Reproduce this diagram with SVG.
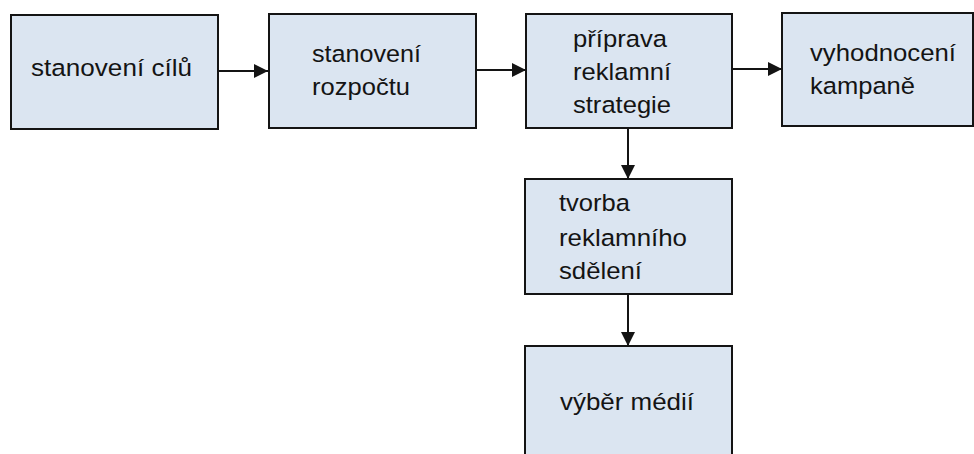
<svg xmlns="http://www.w3.org/2000/svg" width="974" height="454" viewBox="0 0 974 454">
<style>
.box{fill:#dbe5f1;stroke:#141414;stroke-width:2}
.t{font-family:"Liberation Sans",Arial,sans-serif;font-size:24.5px;fill:#141414}
.c{stroke:#141414;stroke-width:2;fill:none}
</style>
<defs>
<marker id="ah" viewBox="0 0 14 14" refX="14" refY="7" markerWidth="14" markerHeight="14" markerUnits="userSpaceOnUse" orient="auto">
<path d="M0,0 L14,7 L0,14 Z" fill="#141414"/>
</marker>
</defs>
<rect width="974" height="454" fill="#ffffff"/>
<g id="connectors">
<line class="c" x1="218" y1="71" x2="268" y2="71" marker-end="url(#ah)"/>
<line class="c" x1="476" y1="70" x2="526" y2="70" marker-end="url(#ah)"/>
<line class="c" x1="732" y1="69" x2="782" y2="69" marker-end="url(#ah)"/>
<line class="c" x1="628" y1="128" x2="628" y2="179" marker-end="url(#ah)"/>
<line class="c" x1="628" y1="294" x2="628" y2="346" marker-end="url(#ah)"/>
</g>
<g id="n1">
<rect class="box" x="11" y="15" width="207" height="114"/>
<text class="t" x="31" y="76" textLength="161" lengthAdjust="spacingAndGlyphs">stanovení cílů</text>
</g>
<g id="n2">
<rect class="box" x="269" y="14" width="207" height="114"/>
<text class="t" x="312" y="62" textLength="109" lengthAdjust="spacingAndGlyphs">stanovení</text>
<text class="t" x="312" y="95" textLength="98" lengthAdjust="spacingAndGlyphs">rozpočtu</text>
</g>
<g id="n3">
<rect class="box" x="526" y="14" width="206" height="114"/>
<text class="t" x="573" y="47" textLength="94" lengthAdjust="spacingAndGlyphs">příprava</text>
<text class="t" x="573" y="80" textLength="98" lengthAdjust="spacingAndGlyphs">reklamní</text>
<text class="t" x="573" y="113" textLength="98" lengthAdjust="spacingAndGlyphs">strategie</text>
</g>
<g id="n4">
<rect class="box" x="782" y="13" width="191" height="113"/>
<text class="t" x="810" y="61" textLength="146" lengthAdjust="spacingAndGlyphs">vyhodnocení</text>
<text class="t" x="810" y="94" textLength="105" lengthAdjust="spacingAndGlyphs">kampaně</text>
</g>
<g id="n5">
<rect class="box" x="525" y="179" width="207" height="115"/>
<text class="t" x="559" y="211" textLength="71" lengthAdjust="spacingAndGlyphs">tvorba</text>
<text class="t" x="559" y="246" textLength="128" lengthAdjust="spacingAndGlyphs">reklamního</text>
<text class="t" x="559" y="279" textLength="83" lengthAdjust="spacingAndGlyphs">sdělení</text>
</g>
<g id="n6">
<rect class="box" x="525" y="346" width="207" height="120"/>
<text class="t" x="560" y="410" textLength="134" lengthAdjust="spacingAndGlyphs">výběr médií</text>
</g>
</svg>
